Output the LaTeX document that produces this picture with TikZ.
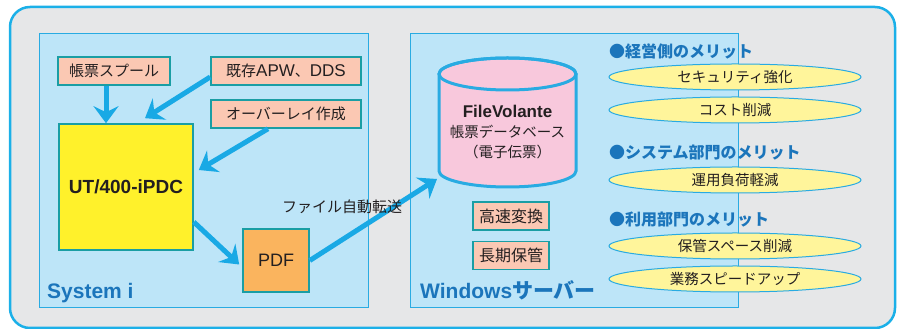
\documentclass[tikz,border=0pt]{standalone}
\usepackage{fontspec}
\setmainfont{Noto Sans CJK JP}
\newfontfamily\latfont{Liberation Sans}
\usetikzlibrary{arrows.meta,shapes.geometric,positioning}

\definecolor{framecol}{HTML}{1BB0E8}
\definecolor{bgcol}{HTML}{E6E7E8}
\definecolor{panelcol}{HTML}{BDE5F8}
\definecolor{edgecol}{HTML}{29ABE2}
\definecolor{salmon}{HTML}{FBC8B3}
\definecolor{tealcol}{HTML}{1A9EA4}
\definecolor{utyellow}{HTML}{FFF12B}
\definecolor{pdforange}{HTML}{FAB45E}
\definecolor{dbpink}{HTML}{F8C8DC}
\definecolor{lemon}{HTML}{FFF59B}
\definecolor{deepblue}{HTML}{1B75BB}
\definecolor{arrowcol}{HTML}{19A9E5}
\definecolor{ink}{HTML}{231F20}

\begin{document}
\begin{tikzpicture}[x=1pt,y=1pt,
  panel/.style={draw=edgecol,line width=1pt,fill=panelcol},
  tag/.style={draw=tealcol,line width=1.6pt,fill=salmon,minimum height=28,inner sep=0pt,
    text=ink,font=\fontsize{15}{17}\selectfont},
  merit/.style={ellipse,draw=edgecol,line width=1pt,fill=lemon,minimum width=252,
    minimum height=26,inner sep=0pt,text=ink,font=\fontsize{14.5}{16}\selectfont},
  head/.style={anchor=west,inner sep=0pt,text=deepblue,font=\bfseries\fontsize{16}{18}\selectfont},
  title/.style={anchor=base west,inner sep=0pt,text=deepblue,font=\bfseries\fontsize{21}{24}\selectfont},
  arr/.style={draw=arrowcol,line width=5pt,-{Stealth[length=17pt,width=25pt,inset=6pt]}},
]
  \useasboundingbox (0,0) rectangle (898,329);
  \draw[draw=framecol,line width=2.5pt,fill=bgcol,rounded corners=20] (10,1) rectangle (895,322);

  % panels
  \draw[panel] (39,21) rectangle (368,295);
  \draw[panel] (410,21) rectangle (738,295);
  \node[title] (sysi) at (47,30) {\latfont System i};
  \node[title] (winsv) at (420,30) {{\latfont Windows}サーバー};

  % System i side
  \node[tag,minimum width=112] (spool) at (114,258) {帳票スプール};
  \node[tag,minimum width=150] (apw) at (286,258) {既存{\latfont\fontsize{17}{17}\selectfont APW}、{\latfont\fontsize{17}{17}\selectfont DDS}};
  \node[tag,minimum width=150] (ovl) at (286,215) {オーバーレイ作成};
  \node[draw=tealcol,line width=1.6pt,fill=utyellow,minimum width=134,minimum height=126,
    text=ink,font=\latfont\bfseries\fontsize{19}{22}\selectfont] (ut) at (126,142) {UT/400-iPDC};
  \node[draw=tealcol,line width=1.6pt,fill=pdforange,minimum width=66,minimum height=63,
    text=ink,font=\latfont\fontsize{18}{20}\selectfont] (pdf) at (276,68.5) {PDF};

  % database
  \draw[draw=edgecol,line width=3pt,fill=dbpink] (439,255) -- (439,158)
    arc[start angle=180,end angle=360,x radius=68.5,y radius=16] -- (576,255)
    arc[start angle=0,end angle=180,x radius=68.5,y radius=16] -- cycle;
  \draw[draw=edgecol,line width=3pt] (507.5,255) ellipse[x radius=68.5,y radius=16];
  \node[align=center,text=ink,font=\fontsize{14.5}{20}\selectfont] (db) at (507.5,197)
    {{\latfont\bfseries\fontsize{17}{20}\selectfont FileVolante}\\帳票データベース\\（電子伝票）};
  \coordinate (dbin) at (437,150);
  \node[tag,minimum width=76,font=\fontsize{16}{18}\selectfont] (fast) at (511,113) {高速変換};
  \node[tag,minimum width=76,font=\fontsize{16}{18}\selectfont] (keep) at (511,73.5) {長期保管};

  % merits
  \node[head] (mgmt) at (609,278) {●経営側のメリット};
  \node[merit] (sec) at (735,252) {セキュリティ強化};
  \node[merit] (cost) at (735,219) {コスト削減};
  \node[head] (sysdept) at (609,176) {●システム部門のメリット};
  \node[merit] (load) at (735,149) {運用負荷軽減};
  \node[head] (user) at (609,109) {●利用部門のメリット};
  \node[merit] (space) at (735,83) {保管スペース削減};
  \node[merit] (speed) at (735,50) {業務スピードアップ};

  % arrows
  \path ([xshift=-8]spool.south) edge[arr] ([xshift=-8]spool.south |- ut.north)
    ([yshift=-6]apw.west) edge[arr] ([shift={(19,5)}]ut.north)
    ([xshift=-18]ovl.south) edge[arr] ([shift={(5,17)}]ut.east)
    ([yshift=-35]ut.east) edge[arr] ([shift={(-3,-4)}]pdf.west)
    (pdf.east) edge[arr] (dbin);
  \node[text=ink,font=\fontsize{15}{17}\selectfont] (xfer) at (342,122) {ファイル自動転送};
\end{tikzpicture}
\end{document}
